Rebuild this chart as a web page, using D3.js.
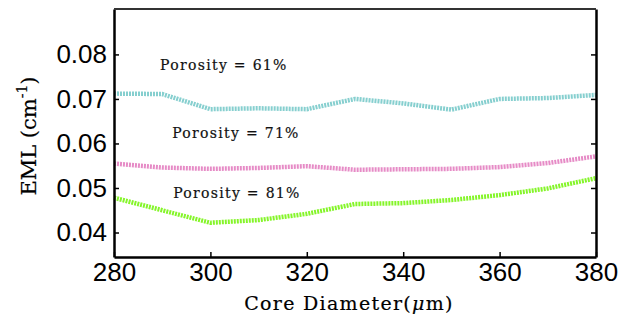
<!DOCTYPE html>
<html>
<head>
<meta charset="utf-8">
<script src="https://cdn.jsdelivr.net/npm/d3@7"></script>
<style>
  body { margin: 0; background: #fff; }
  svg { display: block; }
</style>
</head>
<body>
<div id="chart"></div>
<script>
var diameters = [280, 290, 300, 310, 320, 330, 340, 350, 360, 370, 380];
var eml61 = [0.0712, 0.0711, 0.0677, 0.0679, 0.0677, 0.0700, 0.0690, 0.0676, 0.0700, 0.0702, 0.0709];
var eml71 = [0.0555, 0.0546, 0.0543, 0.0545, 0.0549, 0.0541, 0.0542, 0.0543, 0.0547, 0.0556, 0.0571];
var eml81 = [0.0478, 0.0450, 0.0422, 0.0428, 0.0442, 0.0464, 0.0466, 0.0473, 0.0484, 0.0499, 0.0522];
var xTicks = [280, 300, 320, 340, 360, 380];
var yTicks = [0.04, 0.05, 0.06, 0.07, 0.08];
var seriesNames = ["Porosity = 61%", "Porosity = 71%", "Porosity = 81%"];

var width = 632, height = 318;
var margin = { top: 9, right: 36, bottom: 61, left: 114 };

var svg = d3.select("#chart").append("svg")
  .attr("width", width)
  .attr("height", height);

var x = d3.scaleLinear().domain([280, 380]).range([margin.left, width - margin.right]);
var y = d3.scaleLinear().domain([0.0345, 0.0902]).range([height - margin.bottom, margin.top]);

// label anchors are in data units
var series = [
  { name: seriesNames[0], values: eml61, color: "#86cfcf", lx: 302.8, ly: 0.0766 },
  { name: seriesNames[1], values: eml71, color: "#e68bc6", lx: 305.3, ly: 0.0613 },
  { name: seriesNames[2], values: eml81, color: "#85f52a", lx: 305.5, ly: 0.0478 }
];

var line = d3.line()
  .x(function (d) { return x(d[0]); })
  .y(function (d) { return y(d[1]); });

series.forEach(function (s) {
  svg.append("path")
    .datum(diameters.map(function (dd, i) { return [dd, s.values[i]]; }))
    .attr("d", line)
    .attr("fill", "none")
    .attr("stroke", s.color)
    .attr("stroke-width", 4.5)
    .attr("stroke-dasharray", "2,1");

  svg.append("text")
    .attr("x", x(s.lx))
    .attr("y", y(s.ly))
    .attr("text-anchor", "middle")
    .attr("font-family", "DejaVu Serif")
    .attr("font-size", "14px")
    .attr("letter-spacing", "1.3px")
    .attr("fill", "#111")
    .attr("stroke", "#111")
    .attr("stroke-width", 0.2)
    .text(s.name);
});

// axes, ticks inward
var bottom = height - margin.bottom;
var right = width - margin.right;

svg.append("g")
  .attr("transform", "translate(0," + bottom + ")")
  .call(d3.axisBottom(x).tickValues(xTicks).tickSizeInner(-5).tickSizeOuter(0).tickPadding(6).tickFormat(d3.format("d")))
  .call(function (g) {
    g.select(".domain").attr("stroke-width", 2.5);
    g.selectAll(".tick line").attr("stroke-width", 1.5);
    g.selectAll("text").attr("font-family", "Liberation Sans").attr("font-size", "26px").attr("fill", "#000");
  });

svg.append("g")
  .attr("transform", "translate(" + margin.left + ",0)")
  .call(d3.axisLeft(y).tickValues(yTicks).tickSizeInner(-5).tickSizeOuter(0).tickPadding(7).tickFormat(d3.format(".2f")))
  .call(function (g) {
    g.select(".domain").attr("stroke-width", 2.5);
    g.selectAll(".tick line").attr("stroke-width", 1.5);
    g.selectAll("text").attr("font-family", "Liberation Sans").attr("font-size", "26px").attr("fill", "#000");
  });

svg.append("g")
  .attr("transform", "translate(" + right + ",0)")
  .call(d3.axisRight(y).tickValues(yTicks).tickSizeInner(-5).tickSizeOuter(0).tickFormat(""))
  .call(function (g) {
    g.select(".domain").attr("stroke-width", 2.5);
    g.selectAll(".tick line").attr("stroke-width", 1.5);
  });

svg.append("line")
  .attr("x1", margin.left).attr("x2", right)
  .attr("y1", margin.top).attr("y2", margin.top)
  .attr("stroke", "#333").attr("stroke-width", 2);

// axis titles
svg.append("text")
  .attr("x", 349)
  .attr("y", 310)
  .attr("text-anchor", "middle")
  .attr("font-family", "DejaVu Serif")
  .attr("font-size", "19px")
  .attr("letter-spacing", "1.3px")
  .attr("fill", "#000")
  .attr("stroke", "#000")
  .attr("stroke-width", 0.2)
  .html("Core Diameter(<tspan font-style='italic'>μ</tspan>m)");

svg.append("text")
  .attr("transform", "translate(36,136) rotate(-90)")
  .attr("text-anchor", "middle")
  .attr("font-family", "DejaVu Serif")
  .attr("font-size", "21px")
  .attr("fill", "#000")
  .attr("stroke", "#000")
  .attr("stroke-width", 0.2)
  .html("EML (cm<tspan dy='-9' font-size='14px'>-1</tspan><tspan dy='9'>)</tspan>");
</script>
</body>
</html>
